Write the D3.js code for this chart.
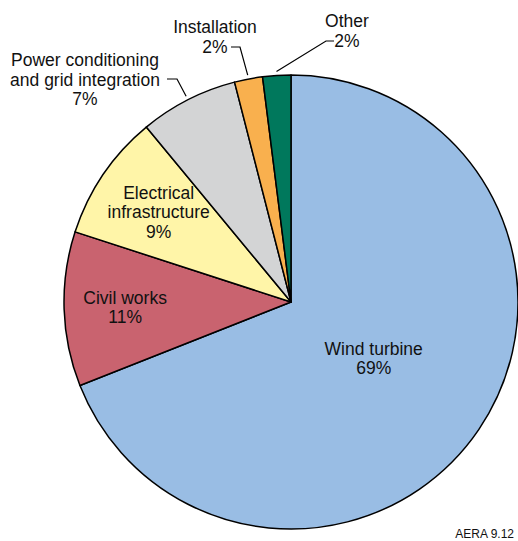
<!DOCTYPE html>
<html>
<head>
<meta charset="utf-8">
<script src="https://cdn.jsdelivr.net/npm/d3@7"></script>
<style>
  html, body { margin: 0; padding: 0; background: #fff; }
  svg { display: block; }
  text { font-family: "Liberation Sans", Arial, Helvetica, sans-serif; fill: #111; }
</style>
</head>
<body>
<svg id="chart" width="518" height="541"></svg>
<script>
// ---- data ----
const categories = ["Wind turbine", "Civil works", "Electrical infrastructure",
                    "Power conditioning and grid integration", "Installation", "Other"];
const values = [69, 11, 9, 7, 2, 2];
const labelLines = [
  ["Wind turbine", "69%"],
  ["Civil works", "11%"],
  ["Electrical", "infrastructure", "9%"],
  ["Power conditioning", "and grid integration", "7%"],
  ["Installation", "2%"],
  ["Other", "2%"]
];
const colors = ["#99bde4", "#c9636f", "#fff5a8", "#d3d4d5", "#f9b04e", "#00785c"];
const sourceNote = "AERA 9.12";

// ---- layout (positions kept separate from data) ----
const W = 518, H = 541;
const cx = 291, cy = 302, R = 227;
const fontSize = 17.5, lineH = 19.5;
const labelLayout = [
  { inside: true, r: 100 },
  { inside: true, r: 166 },
  { inside: true, r: 160 },
  { inside: false, x: 85, y: 66, elbow: [[167, 79], [177, 79]] },
  { inside: false, x: 215, y: 33, elbow: [[231, 47], [240, 47]] },
  { inside: false, x: 347, y: 27, elbow: [[334, 41], [326, 41]] }
];

const svg = d3.select("#chart");
const g = svg.append("g").attr("transform", `translate(${cx},${cy})`);

const data = categories.map((c, i) => ({ cat: c, value: values[i], i }));
const pie = d3.pie().sort(null).value(d => d.value);
const arcs = pie(data);
const arc = d3.arc().innerRadius(0).outerRadius(R);

g.selectAll("path.slice")
  .data(arcs)
  .join("path")
  .attr("class", "slice")
  .attr("d", arc)
  .attr("fill", d => colors[d.data.i])
  .attr("stroke", "#000")
  .attr("stroke-width", 1.5)
  .attr("stroke-linejoin", "round");

const polar = (a, r) => [Math.sin(a) * r, -Math.cos(a) * r];

arcs.forEach(d => {
  const L = labelLayout[d.data.i];
  const lines = labelLines[d.data.i];
  const mid = (d.startAngle + d.endAngle) / 2;
  if (L.inside) {
    const [x, y] = polar(mid, L.r);
    const t = g.append("text")
      .attr("text-anchor", "middle")
      .attr("font-size", fontSize);
    const y0 = y - (lines.length - 1) * lineH / 2 + fontSize * 0.35;
    lines.forEach((s, k) => {
      t.append("tspan").attr("x", x).attr("y", y0 + k * lineH).text(s);
    });
  } else {
    const t = svg.append("text")
      .attr("text-anchor", "middle")
      .attr("font-size", fontSize);
    lines.forEach((s, k) => {
      t.append("tspan").attr("x", L.x).attr("y", L.y + k * lineH).text(s);
    });
    const [ex, ey] = polar(mid, R + 4);
    const pts = L.elbow.map(p => [p[0], p[1]]).concat([[cx + ex, cy + ey]]);
    svg.append("path")
      .attr("d", d3.line()(pts))
      .attr("fill", "none")
      .attr("stroke", "#000")
      .attr("stroke-width", 1.2);
  }
});

svg.append("text")
  .attr("x", 514).attr("y", 538)
  .attr("text-anchor", "end")
  .attr("font-size", 12)
  .text(sourceNote);
</script>
</body>
</html>
